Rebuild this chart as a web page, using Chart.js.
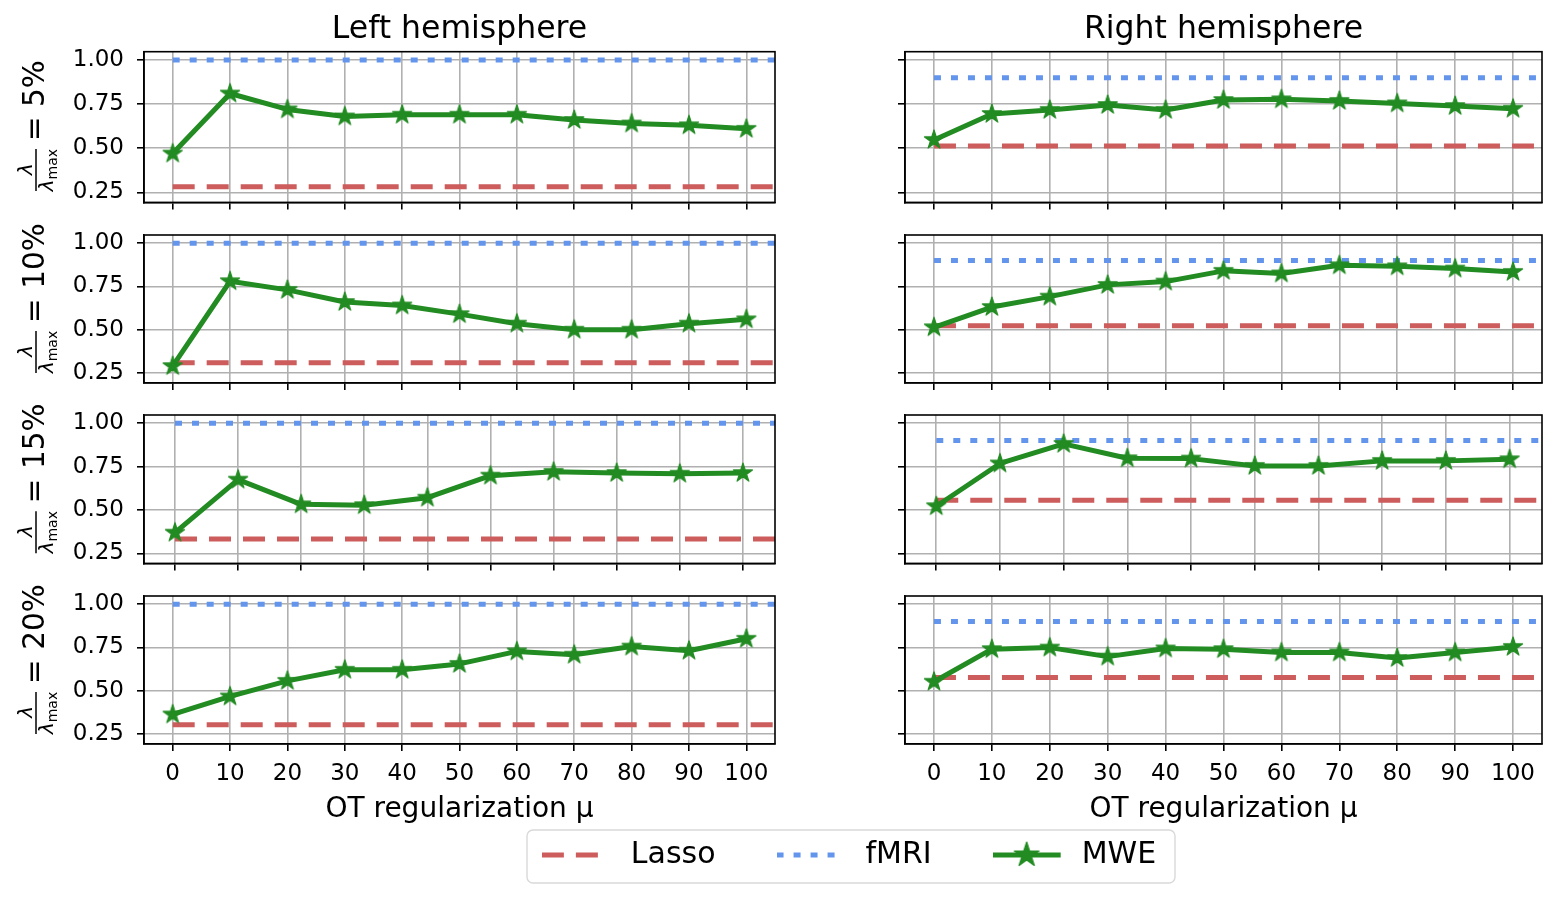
<!DOCTYPE html>
<html>
<head>
<meta charset="utf-8">
<script src="https://cdn.jsdelivr.net/npm/chart.js@4.4.1/dist/chart.umd.min.js"></script>
<style>
html, body { margin: 0; padding: 0; background: #ffffff; }
body { width: 1562px; height: 900px; position: relative; overflow: hidden; }
canvas { position: absolute; }
</style>
</head>
<body>
<script>
// ---------------- data ----------------
const muValues   = [0, 10, 20, 30, 40, 50, 60, 70, 80, 90, 100];
const muValues15 = [0.4, 11.4, 22.4, 33.4, 44.4, 55.4, 66.4, 77.4, 88.4, 99.4];
const ratioLabels = ['5%', '10%', '15%', '20%'];
const hemisphereTitles = ['Left hemisphere', 'Right hemisphere'];
const seriesNames = ['Lasso', 'fMRI', 'MWE'];
const xAxisTitle = 'OT regularization μ';
const yTickValues = [0.25, 0.50, 0.75, 1.00];

const mweLeft5   = [0.47, 0.81, 0.72, 0.68, 0.69, 0.69, 0.69, 0.66, 0.64, 0.63, 0.61];
const mweLeft10  = [0.29, 0.78, 0.73, 0.66, 0.64, 0.59, 0.535, 0.50, 0.50, 0.535, 0.56];
const mweLeft15  = [0.37, 0.675, 0.533, 0.528, 0.571, 0.698, 0.72, 0.713, 0.709, 0.713];
const mweLeft20  = [0.363, 0.467, 0.557, 0.621, 0.621, 0.655, 0.727, 0.708, 0.755, 0.731, 0.80];
const mweRight5  = [0.547, 0.694, 0.717, 0.745, 0.717, 0.773, 0.777, 0.768, 0.754, 0.739, 0.724];
const mweRight10 = [0.514, 0.631, 0.691, 0.759, 0.778, 0.84, 0.825, 0.872, 0.866, 0.853, 0.834];
const mweRight15 = [0.522, 0.768, 0.881, 0.798, 0.796, 0.754, 0.754, 0.783, 0.783, 0.792];
const mweRight20 = [0.552, 0.74, 0.749, 0.697, 0.744, 0.74, 0.721, 0.721, 0.689, 0.721, 0.753];

const lassoLeft  = [0.282, 0.31, 0.333, 0.303];
const lassoRight = [0.513, 0.523, 0.556, 0.576];
const fmriLeft   = [1.0, 1.0, 1.0, 1.0];
const fmriRight  = [0.9, 0.9, 0.9, 0.9];

const mweLeft  = [mweLeft5, mweLeft10, mweLeft15, mweLeft20];
const mweRight = [mweRight5, mweRight10, mweRight15, mweRight20];
const muByRow  = [muValues, muValues, muValues15, muValues];

// ---------------- styling / layout ----------------
const X_MIN = -5, X_MAX = 105;
const Y_MIN = 0.193, Y_MAX = 1.047;
const RED = '#CD5C5C', BLUE = '#6495ED', GREEN = '#228B22';
const FONT = 'DejaVu Sans';
Chart.defaults.font.family = FONT;
Chart.defaults.color = '#000';

const COLS = [
  { left: 0,   w: 790, axL: 144, axR: 779 },
  { left: 790, w: 772, axL: 905, axR: 1542 }
];
const AX_TOP = [51.7, 232.2, 412.7, 593.2];
const AX_H = 150.7;
const TICK_FONT = 23, TITLE_FONT = 31.5, XLABEL_FONT = 28;

function makeStar(R, color) {
  const size = Math.ceil(2 * R + 4);
  const c = document.createElement('canvas');
  c.width = size; c.height = size;
  const g = c.getContext('2d');
  const cx = size / 2, cy = size / 2;
  g.beginPath();
  for (let k = 0; k < 10; k++) {
    const r = k % 2 === 0 ? R : R * 0.381966;
    const a = -Math.PI / 2 + k * Math.PI / 5;
    const px = cx + r * Math.cos(a), py = cy + r * Math.sin(a);
    if (k === 0) g.moveTo(px, py); else g.lineTo(px, py);
  }
  g.closePath();
  g.fillStyle = color; g.fill();
  g.lineWidth = 1.2; g.strokeStyle = color; g.lineJoin = 'round'; g.stroke();
  return c;
}
const starPoint = makeStar(10, GREEN);

function makeHandle(kind) {
  const w = 74, h = 30;
  const c = document.createElement('canvas');
  c.width = w; c.height = h;
  const g = c.getContext('2d');
  const y = h / 2;
  g.beginPath();
  g.moveTo(0, y); g.lineTo(68, y);
  if (kind === 'Lasso') { g.lineWidth = 5; g.setLineDash([22, 12]); g.strokeStyle = RED; }
  else if (kind === 'fMRI') { g.lineWidth = 5; g.setLineDash([7, 10]); g.strokeStyle = BLUE; }
  else { g.lineWidth = 5; g.strokeStyle = GREEN; }
  g.stroke();
  if (kind === 'MWE') {
    const s = makeStar(13, GREEN);
    g.drawImage(s, 34 - s.width / 2, y - s.height / 2);
  }
  return c;
}

const framePlugin = {
  id: 'frame',
  afterDraw(chart) {
    const { ctx, chartArea: a } = chart;
    ctx.save();
    ctx.strokeStyle = '#000'; ctx.lineWidth = 1.6;
    ctx.strokeRect(a.left, a.top, a.right - a.left, a.bottom - a.top);
    ctx.restore();
  }
};

function yLabelPlugin(row) {
  return {
    id: 'ylabel' + row,
    afterDraw(chart) {
      const { ctx, chartArea: a } = chart;
      const cy = (a.top + a.bottom) / 2, cx = 36;
      ctx.save();
      ctx.translate(cx, cy);
      ctx.rotate(-Math.PI / 2);
      ctx.fillStyle = '#000'; ctx.strokeStyle = '#000';
      ctx.lineWidth = 1.5;
      ctx.beginPath(); ctx.moveTo(-64, 0); ctx.lineTo(-22, 0); ctx.stroke();
      ctx.textBaseline = 'alphabetic';
      ctx.font = 'italic 20px "' + FONT + '"';
      ctx.textAlign = 'center';
      ctx.fillText('λ', -42, -4);
      ctx.textAlign = 'left';
      const lw = ctx.measureText('λ').width;
      ctx.font = '14px "' + FONT + '"';
      const mw = ctx.measureText('max').width;
      const start = -43 - (lw + mw) / 2;
      ctx.font = 'italic 20px "' + FONT + '"';
      ctx.fillText('λ', start, 17);
      ctx.font = '14px "' + FONT + '"';
      ctx.fillText('max', start + lw, 21);
      ctx.font = '29.5px "' + FONT + '"';
      ctx.fillText('= ' + ratioLabels[row], -14, 8);
      ctx.restore();
    }
  };
}

function makeSubplot(col, row) {
  const g = COLS[col];
  const axTop = AX_TOP[row], axBottom = axTop + AX_H;
  const cTop = row === 0 ? 0 : Math.floor(axTop - 12);
  const cBottom = row === 3 ? 832 : Math.ceil(axBottom + 16);
  const cv = document.createElement('canvas');
  cv.width = g.w; cv.height = cBottom - cTop;
  cv.style.left = g.left + 'px'; cv.style.top = cTop + 'px';
  cv.style.width = g.w + 'px'; cv.style.height = (cBottom - cTop) + 'px';
  document.body.appendChild(cv);

  const xs = muByRow[row];
  const mwe = (col === 0 ? mweLeft : mweRight)[row];
  const lasso = (col === 0 ? lassoLeft : lassoRight)[row];
  const fmri = (col === 0 ? fmriLeft : fmriRight)[row];

  const gridOpts = { color: '#b0b0b0', lineWidth: 1.6, tickColor: '#000', tickLength: 7, tickWidth: 1.6, drawTicks: true };
  const borderOpts = { display: true, color: '#000', width: 1.6 };
  const titleLH = TITLE_FONT * 1.2;
  const titleMid = 29.5;

  new Chart(cv, {
    type: 'line',
    data: {
      datasets: [
        { label: seriesNames[2], data: xs.map((x, i) => ({ x: x, y: mwe[i] })),
          borderColor: GREEN, backgroundColor: GREEN, borderWidth: 5, borderJoinStyle: 'round',
          pointStyle: starPoint, pointRadius: 10, tension: 0, fill: false },
        { label: seriesNames[1], data: [{ x: xs[0], y: fmri }, { x: X_MAX, y: fmri }],
          borderColor: BLUE, borderWidth: 5, borderDash: [7, 10], pointRadius: 0, fill: false },
        { label: seriesNames[0], data: [{ x: xs[0], y: lasso }, { x: X_MAX, y: lasso }],
          borderColor: RED, borderWidth: 5, borderDash: [22, 12], pointRadius: 0, fill: false }
      ]
    },
    options: {
      responsive: false, animation: false, events: [],
      layout: { padding: { left: 0, right: g.left + g.w - g.axR, top: row === 0 ? 0 : axTop - cTop, bottom: 0 } },
      plugins: {
        legend: { display: false },
        tooltip: { enabled: false },
        title: { display: row === 0, text: hemisphereTitles[col], fullSize: false,
                 font: { size: TITLE_FONT, weight: 'normal' }, color: '#000',
                 padding: { top: titleMid - titleLH / 2, bottom: axTop - titleLH - (titleMid - titleLH / 2) } }
      },
      scales: {
        x: {
          type: 'linear', min: X_MIN, max: X_MAX,
          afterBuildTicks: s => { s.ticks = xs.map(v => ({ value: v })); },
          afterFit: s => { s.height = cBottom - axBottom; s.paddingLeft = 0; s.paddingRight = 0; },
          ticks: { display: row === 3, font: { size: TICK_FONT }, padding: 9.5, color: '#000',
                   maxRotation: 0, autoSkip: false, callback: v => String(v) },
          grid: gridOpts, border: borderOpts,
          title: { display: row === 3, text: xAxisTitle, font: { size: XLABEL_FONT }, color: '#000',
                   padding: { top: 0, bottom: 832 - 810 - XLABEL_FONT * 0.6 } }
        },
        y: {
          type: 'linear', min: Y_MIN, max: Y_MAX,
          afterBuildTicks: s => { s.ticks = yTickValues.map(v => ({ value: v })); },
          afterFit: s => { s.width = g.axL - g.left; s.paddingTop = 0; s.paddingBottom = 0; },
          ticks: { display: col === 0, font: { size: TICK_FONT }, padding: 13, color: '#000',
                   callback: v => Number(v).toFixed(2) },
          grid: gridOpts, border: borderOpts
        }
      }
    },
    plugins: col === 0 ? [framePlugin, yLabelPlugin(row)] : [framePlugin]
  });
}

for (let r = 0; r < 4; r++) { makeSubplot(0, r); makeSubplot(1, r); }

// ---------------- legend ----------------
const LEG = { left: 449, top: 779, w: 800, h: 121 };
const lc = document.createElement('canvas');
lc.width = LEG.w; lc.height = LEG.h;
lc.style.left = LEG.left + 'px'; lc.style.top = LEG.top + 'px';
lc.style.width = LEG.w + 'px'; lc.style.height = LEG.h + 'px';
lc.style.zIndex = 5;
document.body.appendChild(lc);

const legendFrame = {
  id: 'legendFrame',
  beforeDraw(chart) {
    const ctx = chart.ctx;
    const x0 = 527 - LEG.left, y0 = 830 - LEG.top, x1 = 1175 - LEG.left, y1 = 883 - LEG.top, r = 6;
    ctx.save();
    ctx.beginPath();
    ctx.moveTo(x0 + r, y0); ctx.lineTo(x1 - r, y0); ctx.arcTo(x1, y0, x1, y0 + r, r);
    ctx.lineTo(x1, y1 - r); ctx.arcTo(x1, y1, x1 - r, y1, r);
    ctx.lineTo(x0 + r, y1); ctx.arcTo(x0, y1, x0, y1 - r, r);
    ctx.lineTo(x0, y0 + r); ctx.arcTo(x0, y0, x0 + r, y0, r);
    ctx.closePath();
    ctx.fillStyle = 'rgba(255,255,255,0.8)'; ctx.fill();
    ctx.strokeStyle = '#d9d9d9'; ctx.lineWidth = 1.4; ctx.stroke();
    ctx.restore();
  }
};

new Chart(lc, {
  type: 'line',
  data: { datasets: seriesNames.map(n => ({ label: n, data: [] })) },
  options: {
    responsive: false, animation: false, events: [],
    layout: { padding: 0 },
    scales: { x: { display: false }, y: { display: false } },
    plugins: {
      tooltip: { enabled: false },
      title: { display: false },
      legend: {
        display: true, position: 'top', align: 'center', maxHeight: LEG.h,
        labels: {
          usePointStyle: true, pointStyleWidth: 74, font: { size: 30 }, color: '#000', padding: 61,
          generateLabels: () => seriesNames.map((n, i) => ({
            text: n, pointStyle: makeHandle(n), hidden: false, datasetIndex: i,
            lineWidth: 0, fillStyle: 'rgba(0,0,0,0)', strokeStyle: 'rgba(0,0,0,0)', fontColor: '#000'
          }))
        }
      }
    }
  },
  plugins: [legendFrame]
});
</script>
</body>
</html>
